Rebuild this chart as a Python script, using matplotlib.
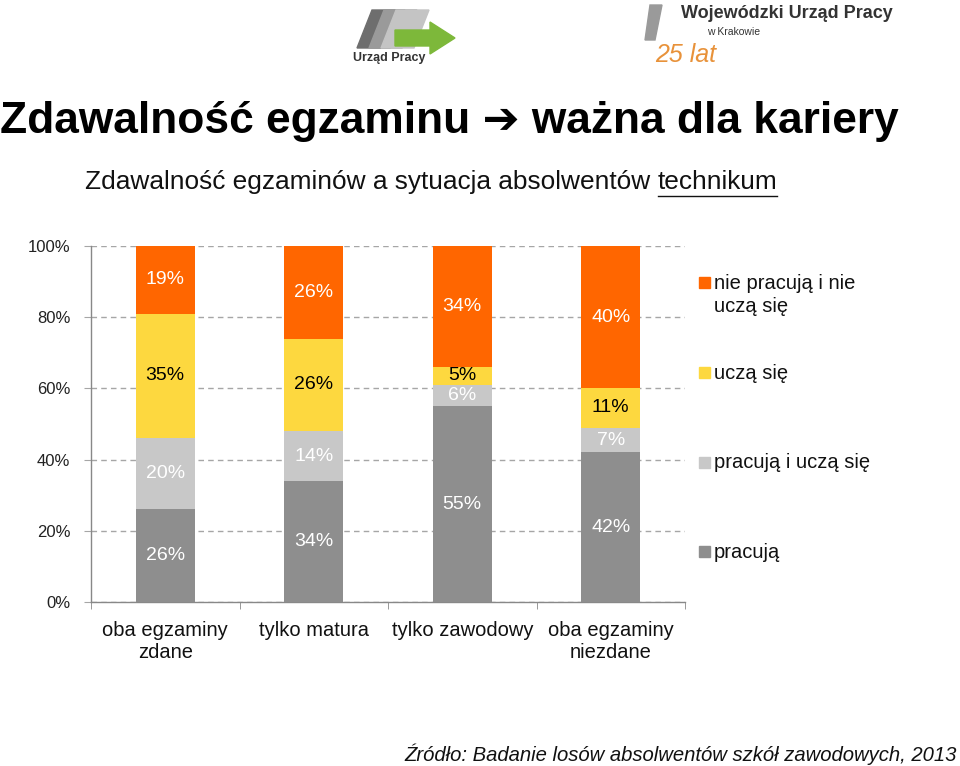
import matplotlib
matplotlib.use("Agg")
import matplotlib.pyplot as plt
from matplotlib.patches import Rectangle, Polygon
from matplotlib.lines import Line2D
import numpy as np

categories = ["oba egzaminy\nzdane", "tylko matura", "tylko zawodowy", "oba egzaminy\nniezdane"]
series_names = ["pracują", "pracują i uczą się", "uczą się", "nie pracują i nie\nuczą się"]
pracuja = [26, 34, 55, 42]
pracuja_i_ucza = [20, 14, 6, 7]
ucza = [35, 26, 5, 11]
nie_pracuja = [19, 26, 34, 40]
yticks = [0, 20, 40, 60, 80, 100]
ytick_labels = ["0%", "20%", "40%", "60%", "80%", "100%"]

colors = ["#8E8E8E", "#C8C8C8", "#FDD83F", "#FF6600"]
label_colors = ["white", "white", "black", "white"]

FONT = ["Liberation Sans", "DejaVu Sans"]
plt.rcParams["font.family"] = FONT

fig = plt.figure(figsize=(9.6, 7.66), dpi=100)
ax = fig.add_axes([91/960, 1-602/766, (685-91)/960, (602-246)/766])

x = np.arange(len(categories))
series = [pracuja, pracuja_i_ucza, ucza, nie_pracuja]
bottom = np.zeros(len(categories))
for vals, col, lc in zip(series, colors, label_colors):
    vals = np.array(vals, dtype=float)
    bars = ax.bar(x, vals, 0.4, bottom=bottom, color=col, zorder=3)
    for xi, b, v in zip(x, bottom, vals):
        ax.text(xi, b + v/2, f"{int(v)}%", ha="center", va="center",
                color=lc, fontsize=14, zorder=4)
    bottom += vals

ax.set_xlim(-0.5, 3.5)
ax.set_ylim(0, 100)
ax.set_yticks(yticks)
ax.set_yticklabels(ytick_labels, fontsize=12, color="#222222")
ax.yaxis.grid(True, linestyle=(0, (4, 3)), color="#A6A6A6", linewidth=1, zorder=0)
ax.set_xticks(x)
ax.set_xticklabels(categories, fontsize=14.5, color="#111111", linespacing=1.2)
ax.set_xticks(np.arange(-0.5, 3.6, 1.0), minor=True)
ax.tick_params(axis="x", which="major", length=0, pad=14)
ax.tick_params(axis="x", which="minor", length=5, color="#888888", direction="out")
ax.tick_params(axis="y", length=5, color="#A6A6A6", pad=10)
for s in ["top", "right"]:
    ax.spines[s].set_visible(False)
for s in ["left", "bottom"]:
    ax.spines[s].set_color("#888888")
    ax.spines[s].set_linewidth(1)

# legend (manual layout to match spacing)
leg_y = [552, 463, 373, 283]
for name, col, yy in zip(series_names, colors, leg_y):
    fig.patches.append(Rectangle((699/960, 1-(yy+5)/766), 11/960, 11/766,
                                 transform=fig.transFigure, color=col))
    if "\n" in name:
        fig.text(714/960, 1-(yy-9)/766, name, fontsize=14.5, va="top", ha="left",
                 color="#111111", linespacing=1.3)
    else:
        fig.text(714/960, 1-yy/766, name, fontsize=14.5, va="center", ha="left",
                 color="#111111")

# titles
fig.text(0.0, 1-121/766, "Zdawalność egzaminu ➔ ważna dla kariery", fontsize=31.9,
         fontweight="bold", ha="left", va="center", family=FONT, color="black")
sub = fig.text(85/960, 1-182/766, "Zdawalność egzaminów a sytuacja absolwentów ",
               fontsize=18.9, ha="left", va="center", color="#111111")
fig.canvas.draw()
r = fig.canvas.get_renderer()
bb = sub.get_window_extent(r)
tech = fig.text(bb.x1/960, 1-182/766, "technikum", fontsize=18.9, ha="left", va="center", color="#111111")
fig.canvas.draw()
bb2 = tech.get_window_extent(r)
fig.lines.append(Line2D([bb2.x0/960, bb2.x1/960], [1-196/766, 1-196/766],
                        transform=fig.transFigure, color="#111111", linewidth=1))

fig.text(957/960, 1-754/766, "Źródło: Badanie losów absolwentów szkół zawodowych, 2013",
         fontsize=14.6, style="italic", ha="right", va="center", color="#111111")

# logos (simplified)
for dx, c in [(0, "#6E6E6E"), (12, "#9A9A9A"), (24, "#C4C4C4")]:
    fig.patches.append(Polygon([((372+dx)/960, 1-10/766), ((405+dx)/960, 1-10/766),
                                ((390+dx)/960, 1-48/766), ((357+dx)/960, 1-48/766)],
                               closed=True, transform=fig.transFigure, color=c))
fig.patches.append(Polygon([(395/960, 1-30/766), (430/960, 1-30/766), (430/960, 1-22/766),
                            (455/960, 1-38/766), (430/960, 1-54/766), (430/960, 1-46/766),
                            (395/960, 1-46/766)], closed=True, transform=fig.transFigure,
                           color="#7DB83A"))
fig.text(389/960, 1-58/766, "Urząd Pracy", fontsize=9, fontweight="bold", ha="center",
         va="center", color="#333333")
fig.text(681/960, 1-14/766, "Wojewódzki Urząd Pracy", fontsize=13, fontweight="bold",
         ha="left", va="center", color="#333333")
fig.text(707/960, 1-32/766, "w Krakowie", fontsize=7.5, ha="left", va="center", color="#333333")
fig.text(655/960, 1-55/766, "25 lat", fontsize=18, style="italic", ha="left", va="center",
         color="#E8923A")
fig.patches.append(Polygon([(650/960, 1-5/766), (662/960, 1-5/766), (655/960, 1-40/766),
                            (645/960, 1-40/766)], closed=True, transform=fig.transFigure,
                           color="#9A9A9A"))

fig.savefig("out.png", dpi=100)
